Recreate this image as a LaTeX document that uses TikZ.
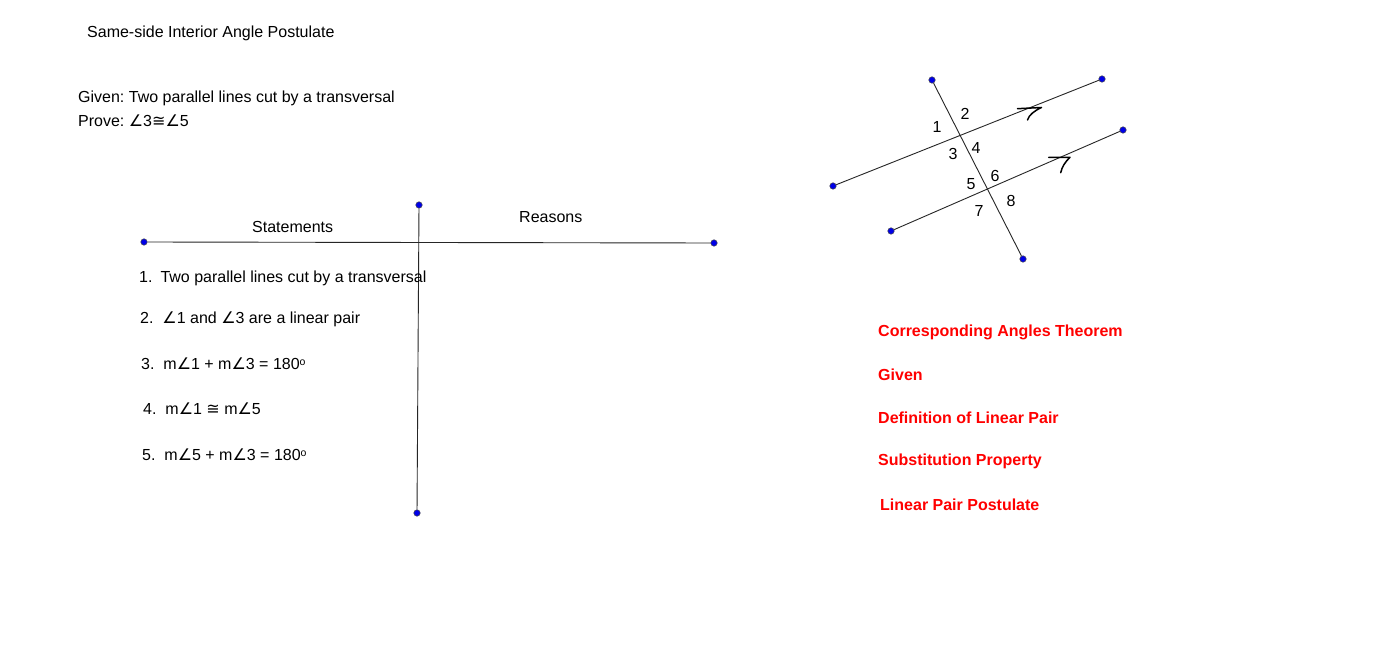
\documentclass[tikz,border=0pt]{standalone}
\usepackage{fontspec}
\setmainfont{Liberation Sans}
\newfontfamily\symfont{DejaVu Sans}
\frenchspacing
\newcommand{\angsym}{{\symfont\fontsize{16}{19}\selectfont ∠}}
\newcommand{\congsym}{{\symfont\fontsize{16}{19}\selectfont ≅}}
\newcommand{\degsym}{\raisebox{4.5pt}{\fontsize{10.5}{12}\selectfont o}}
\definecolor{ptblue}{RGB}{0,0,230}
\tikzset{
    ptdot/.style={circle, draw=black!70, line width=0.5pt, fill=ptblue, inner sep=0pt, minimum size=6.5pt},
    seg/.style={line width=0.9pt, black!85},
    txt/.style={anchor=base west, inner sep=0pt, font=\fontsize{16}{19}\selectfont},
    num/.style={anchor=center, inner sep=0pt, font=\fontsize{16}{19}\selectfont},
    reason/.style={anchor=base west, inner sep=0pt, text=red, font=\bfseries\fontsize{16}{19}\selectfont},
    tick/.style={line width=1.5pt, black, line join=round, line cap=round}
}
\begin{document}
\begin{tikzpicture}[x=1pt, y=-1pt]
        \useasboundingbox (0,0) rectangle (1382,647);
        \fill[white] (0,0) rectangle (1382,647);

        % heading
        \node[txt] (title) at (87,37.5) {Same-side Interior Angle Postulate};
        \node[txt] (given) at (78,102.5) {Given: Two parallel lines cut by a transversal};
        \node[txt] (prove) at (78,126.5) {Prove: \angsym3\congsym\angsym5};

        % T chart
        \node[ptdot] (chartL) at (144,242) {};
        \node[ptdot] (chartR) at (714,243) {};
        \node[ptdot] (chartT) at (419,205) {};
        \node[ptdot] (chartB) at (417,513) {};
        \draw[seg] (chartL) -- (chartR);
        \draw[seg] (chartT) -- (chartB);
        \node[txt] (statements) at (252,232.5) {Statements};
        \node[txt] (reasons) at (519,222.5) {Reasons};

        % statements
        \node[txt] (st1) at (139,282.5) {1.\hspace{8pt}Two parallel lines cut by a transversal};
        \node[txt] (st2) at (140,323.5) {2.\ \ \angsym1 and \angsym3 are a linear pair};
        \node[txt] (st3) at (141,369.5) {3.\ \ m\angsym1 + m\angsym3 = 180\degsym};
        \node[txt] (st4) at (143,414.5) {4.\ \ m\angsym1 \congsym\ m\angsym5};
        \node[txt] (st5) at (142,460.5) {5.\ \ m\angsym5 + m\angsym3 = 180\degsym};

        % parallel lines and transversal
        \node[ptdot] (lineAa) at (833,186) {};
        \node[ptdot] (lineAb) at (1102,79) {};
        \node[ptdot] (lineBa) at (891,231) {};
        \node[ptdot] (lineBb) at (1123,130) {};
        \node[ptdot] (transA) at (932,80) {};
        \node[ptdot] (transB) at (1023,259) {};
        \draw[seg] (lineAa) -- (lineAb);
        \draw[seg] (lineBa) -- (lineBb);
        \draw[seg] (transA) -- (transB);

        % hand drawn arrow marks
        \draw[tick] (1017.5,108.7) -- (1041.5,107.5) .. controls (1034,111) and (1029,115) .. (1027.5,120);
        \draw[tick] (1048.7,157.3) -- (1070,157.3) .. controls (1065,162) and (1062,167) .. (1060.7,172.7);

        % angle numbers
        \foreach \n/\x/\y in {1/937/126.5, 2/965/113.5, 3/953/153.5, 4/976/147.5, 5/971/184.5, 6/995/175.5, 7/979/210.5, 8/1011/200.5} {
            \node[num] (ang\n) at (\x,\y) {\n};
        }

        % reasons
        \node[reason] (re1) at (878,336) {Corresponding Angles Theorem};
        \node[reason] (re2) at (878,380) {Given};
        \node[reason] (re3) at (878,423) {Definition of Linear Pair};
        \node[reason] (re4) at (878,465) {Substitution Property};
        \node[reason] (re5) at (880,510) {Linear Pair Postulate};
\end{tikzpicture}
\end{document}
